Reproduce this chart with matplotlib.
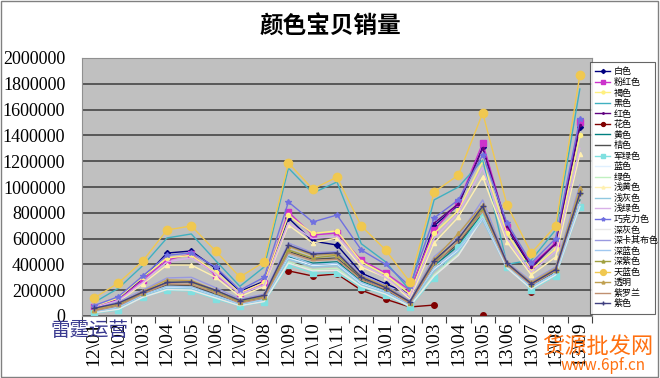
import matplotlib.pyplot as plt
import matplotlib.patches as patches
import numpy as np

plt.rcParams['font.family'] = ['Noto Sans CJK SC', 'DejaVu Sans']

# months on the x axis
months = ['12\\01', '12\\02', '12\\03', '12\\04', '12\\05', '12\\06', '12\\07',
          '12\\08', '12\\09', '12\\10', '12\\11', '12\\12', '13\\01', '13\\02',
          '13\\03', '13\\04', '13\\05', '13\\06', '13\\07', '13\\08', '13\\09']

nan = np.nan
# sales per colour, in thousands
baise = [60, 130, 290, 488, 504, 370, 190, 270, 760, 581, 550, 333, 250, 170, 700, 860, 1310, 682, 372, 566, 1465]
fenhong = [70, 124, 279, 434, 481, 318, 178, 256, 806, 628, 643, 434, 333, 200, 667, 876, 1341, 690, 395, 566, 1504]
hese = [75, 140, 300, 450, 470, 340, 180, 260, 780, 640, 660, 420, 320, 170, 640, 820, 1200, 640, 360, 520, 1400]
heise = [105, 215, 390, 605, 636, 430, 230, 380, 1147, 953, 1039, 560, 420, 200, 900, 1000, 1210, 400, 434, 667, 1760]
hongse = [nan, nan, nan, nan, nan, nan, nan, nan, nan, nan, nan, nan, nan, nan, 720, 870, 1300, 700, 380, 560, 1480]
huase = [nan, nan, nan, nan, nan, nan, nan, nan, 350, 310, 326, 200, 130, 70, 85, nan, 5, nan, 186, nan, nan]
huangse = [38, 75, 160, 225, 222, 165, 100, 135, 460, 410, 420, 270, 195, 95, 390, 545, 800, 385, 235, 340, 900]
juse = [42, 85, 175, 240, 238, 170, 105, 145, 500, 440, 450, 290, 200, 100, 411, 560, 820, 400, 245, 345, 940]
junlv = [23, 47, 147, 200, 194, 132, 78, 109, 395, 333, 333, 225, 163, 70, 295, 535, 783, 380, 202, 310, 845]
lanse = [32, 65, 158, 220, 218, 155, 90, 125, 450, 390, 400, 250, 185, 88, 360, 510, 750, 380, 225, 330, 880]
lvse = [28, 55, 150, 210, 205, 145, 82, 115, 420, 360, 370, 235, 175, 80, 320, 480, 770, 375, 215, 325, 870]
qianhuang = [50, 110, 250, 395, 395, 300, 150, 230, 705, 566, 605, 380, 300, 130, 566, 767, 1078, 574, 318, 457, 1256]
qianhui = [30, 60, 155, 215, 210, 150, 85, 120, 440, 380, 390, 240, 180, 85, 350, 500, 740, 370, 220, 320, 860]
qianlv = [65, 120, 260, 420, 450, 330, 170, 240, 720, 600, 620, 400, 300, 150, 600, 800, 1150, 600, 340, 500, 1300]
qiaokeli = [80, 150, 310, 470, 490, 380, 200, 300, 884, 729, 783, 512, 400, 230, 760, 900, 1250, 720, 410, 600, 1530]
shenhui = [26, 52, 145, 205, 200, 140, 80, 112, 410, 350, 355, 230, 170, 75, 310, 470, 760, 372, 210, 318, 850]
shenkaqi = [55, 110, 200, 295, 300, 220, 130, 170, 566, 490, 500, 320, 240, 120, 460, 620, 900, 420, 270, 380, 1016]
shenlan = [35, 70, 165, 230, 225, 160, 95, 130, 470, 400, 410, 260, 190, 90, 380, 520, 760, 390, 230, 330, 880]
shenzi = [45, 90, 180, 264, 260, 190, 110, 150, 512, 450, 470, 300, 220, 100, 420, 600, 830, 400, 250, 360, 960]
tianlan = [140, 256, 426, 667, 698, 504, 302, 419, 1186, 984, 1077, 698, 512, 264, 961, 1093, 1574, 860, 488, 698, 1868]
touming = [50, 95, 190, 280, 275, 200, 120, 160, 540, 470, 480, 310, 230, 110, 440, 640, 860, 410, 260, 370, 990]
ziluolan = [40, 80, 170, 250, 245, 180, 100, 140, 490, 430, 440, 280, 210, 95, 400, 580, 810, 395, 240, 350, 930]
zise = [60, 100, 185, 260, 265, 200, 120, 160, 550, 480, 490, 300, 220, 110, 430, 600, 850, 410, 250, 360, 950]

# (label, values, colour, marker, markersize)
series = [
    ('白色', baise, '#000080', 'D', 3),
    ('粉红色', fenhong, '#CC33CC', 's', 4),
    ('褐色', hese, '#FFF080', 'o', 3),
    ('黑色', heise, '#40B0C0', '', 0),
    ('红色', hongse, '#600080', '.', 3),
    ('花色', huase, '#800000', 'o', 4),
    ('黄色', huangse, '#008080', '', 0),
    ('桔色', juse, '#505050', '', 0),
    ('军绿色', junlv, '#80E0E0', 's', 4),
    ('蓝色', lanse, '#E0F0FF', '', 0),
    ('绿色', lvse, '#C0F0C0', '', 0),
    ('浅黄色', qianhuang, '#FFF0B0', '^', 3),
    ('浅灰色', qianhui, '#90C8E0', '', 0),
    ('浅绿色', qianlv, '#D8B0E8', '', 0),
    ('巧克力色', qiaokeli, '#7070E0', '*', 4),
    ('深灰色', shenhui, '#E8E8E8', '', 0),
    ('深卡其布色', shenkaqi, '#9999E0', '', 0),
    ('深蓝色', shenlan, '#A0C8F0', '', 0),
    ('深紫色', shenzi, '#A0A040', '^', 3),
    ('天蓝色', tianlan, '#F0C850', 'o', 6),
    ('透明', touming, '#C0A050', '^', 3),
    ('紫罗兰', ziluolan, '#C09070', '', 0),
    ('紫色', zise, '#404080', '+', 4),
]

fig = plt.figure(figsize=(6.6, 3.78), dpi=100)
ax = fig.add_axes([82/660, 1 - 316/378, 510/660, 258/378])
ax.set_facecolor('#C0C0C0')

x = np.arange(len(months))
for label, vals, col, mk, ms in series:
    y = np.array(vals, dtype=float) * 1000
    ax.plot(x, y, color=col, marker=mk if mk else None, markersize=ms,
            markerfacecolor=col, markeredgecolor=col, lw=1, label=label)

ax.set_ylim(0, 2000000)
ax.set_xlim(-0.5, len(months) - 0.5)
ax.set_yticks(np.arange(0, 2000001, 200000))
ax.yaxis.grid(True, color='#505050', lw=1.3)
ax.set_axisbelow(True)
ax.set_yticklabels([str(v) for v in range(0, 2000001, 200000)],
                   family='Liberation Serif', fontsize=13)
ax.tick_params(axis='y', length=0, pad=12)

# ticks between categories, labels centred
ax.set_xticks(np.arange(-0.5, len(months), 1))
ax.set_xticklabels([])
ax.set_xticks(x, minor=True)
ax.set_xticklabels(months, minor=True, rotation=90, family='Liberation Serif', fontsize=14)
ax.tick_params(axis='x', which='major', length=5, color='#404040', direction='out')
ax.tick_params(axis='x', which='minor', length=0, pad=4)

for s in ax.spines.values():
    s.set_color('#909090')
    s.set_linewidth(0.8)

fig.text(0.5, 1 - 27/378, '颜色宝贝销量', ha='center', va='center',
         fontsize=17, fontweight='bold')

leg = ax.legend(loc='upper left', bbox_to_anchor=(590/660, 1 - 334/378, 65/660, 272/378),
                bbox_transform=fig.transFigure, borderaxespad=0, mode='expand',
                fontsize=6.5, labelspacing=0.17, handlelength=1.6, markerscale=0.7,
                handletextpad=0.4, borderpad=0.6, frameon=True, fancybox=False)
leg.get_frame().set_edgecolor('#404040')
leg.get_frame().set_linewidth(0.8)

# watermarks
fig.text(90/660, 1 - 330/378, '雷霆运营', ha='center', va='center',
         fontsize=14, color='#3A3A90')
fig.text(598/660, 1 - 346/378, '货源批发网', ha='center', va='center',
         fontsize=16, color='#FF7010')
fig.text(603/660, 1 - 366/378, 'www.6pf.cn', ha='center', va='center',
         fontsize=11, color='#FF7010')

fig.patches.append(patches.Rectangle((0.002, 0.003), 0.995, 0.994, transform=fig.transFigure,
                                     fill=False, edgecolor='#808080', lw=1))

fig.savefig('out.png', dpi=100)
